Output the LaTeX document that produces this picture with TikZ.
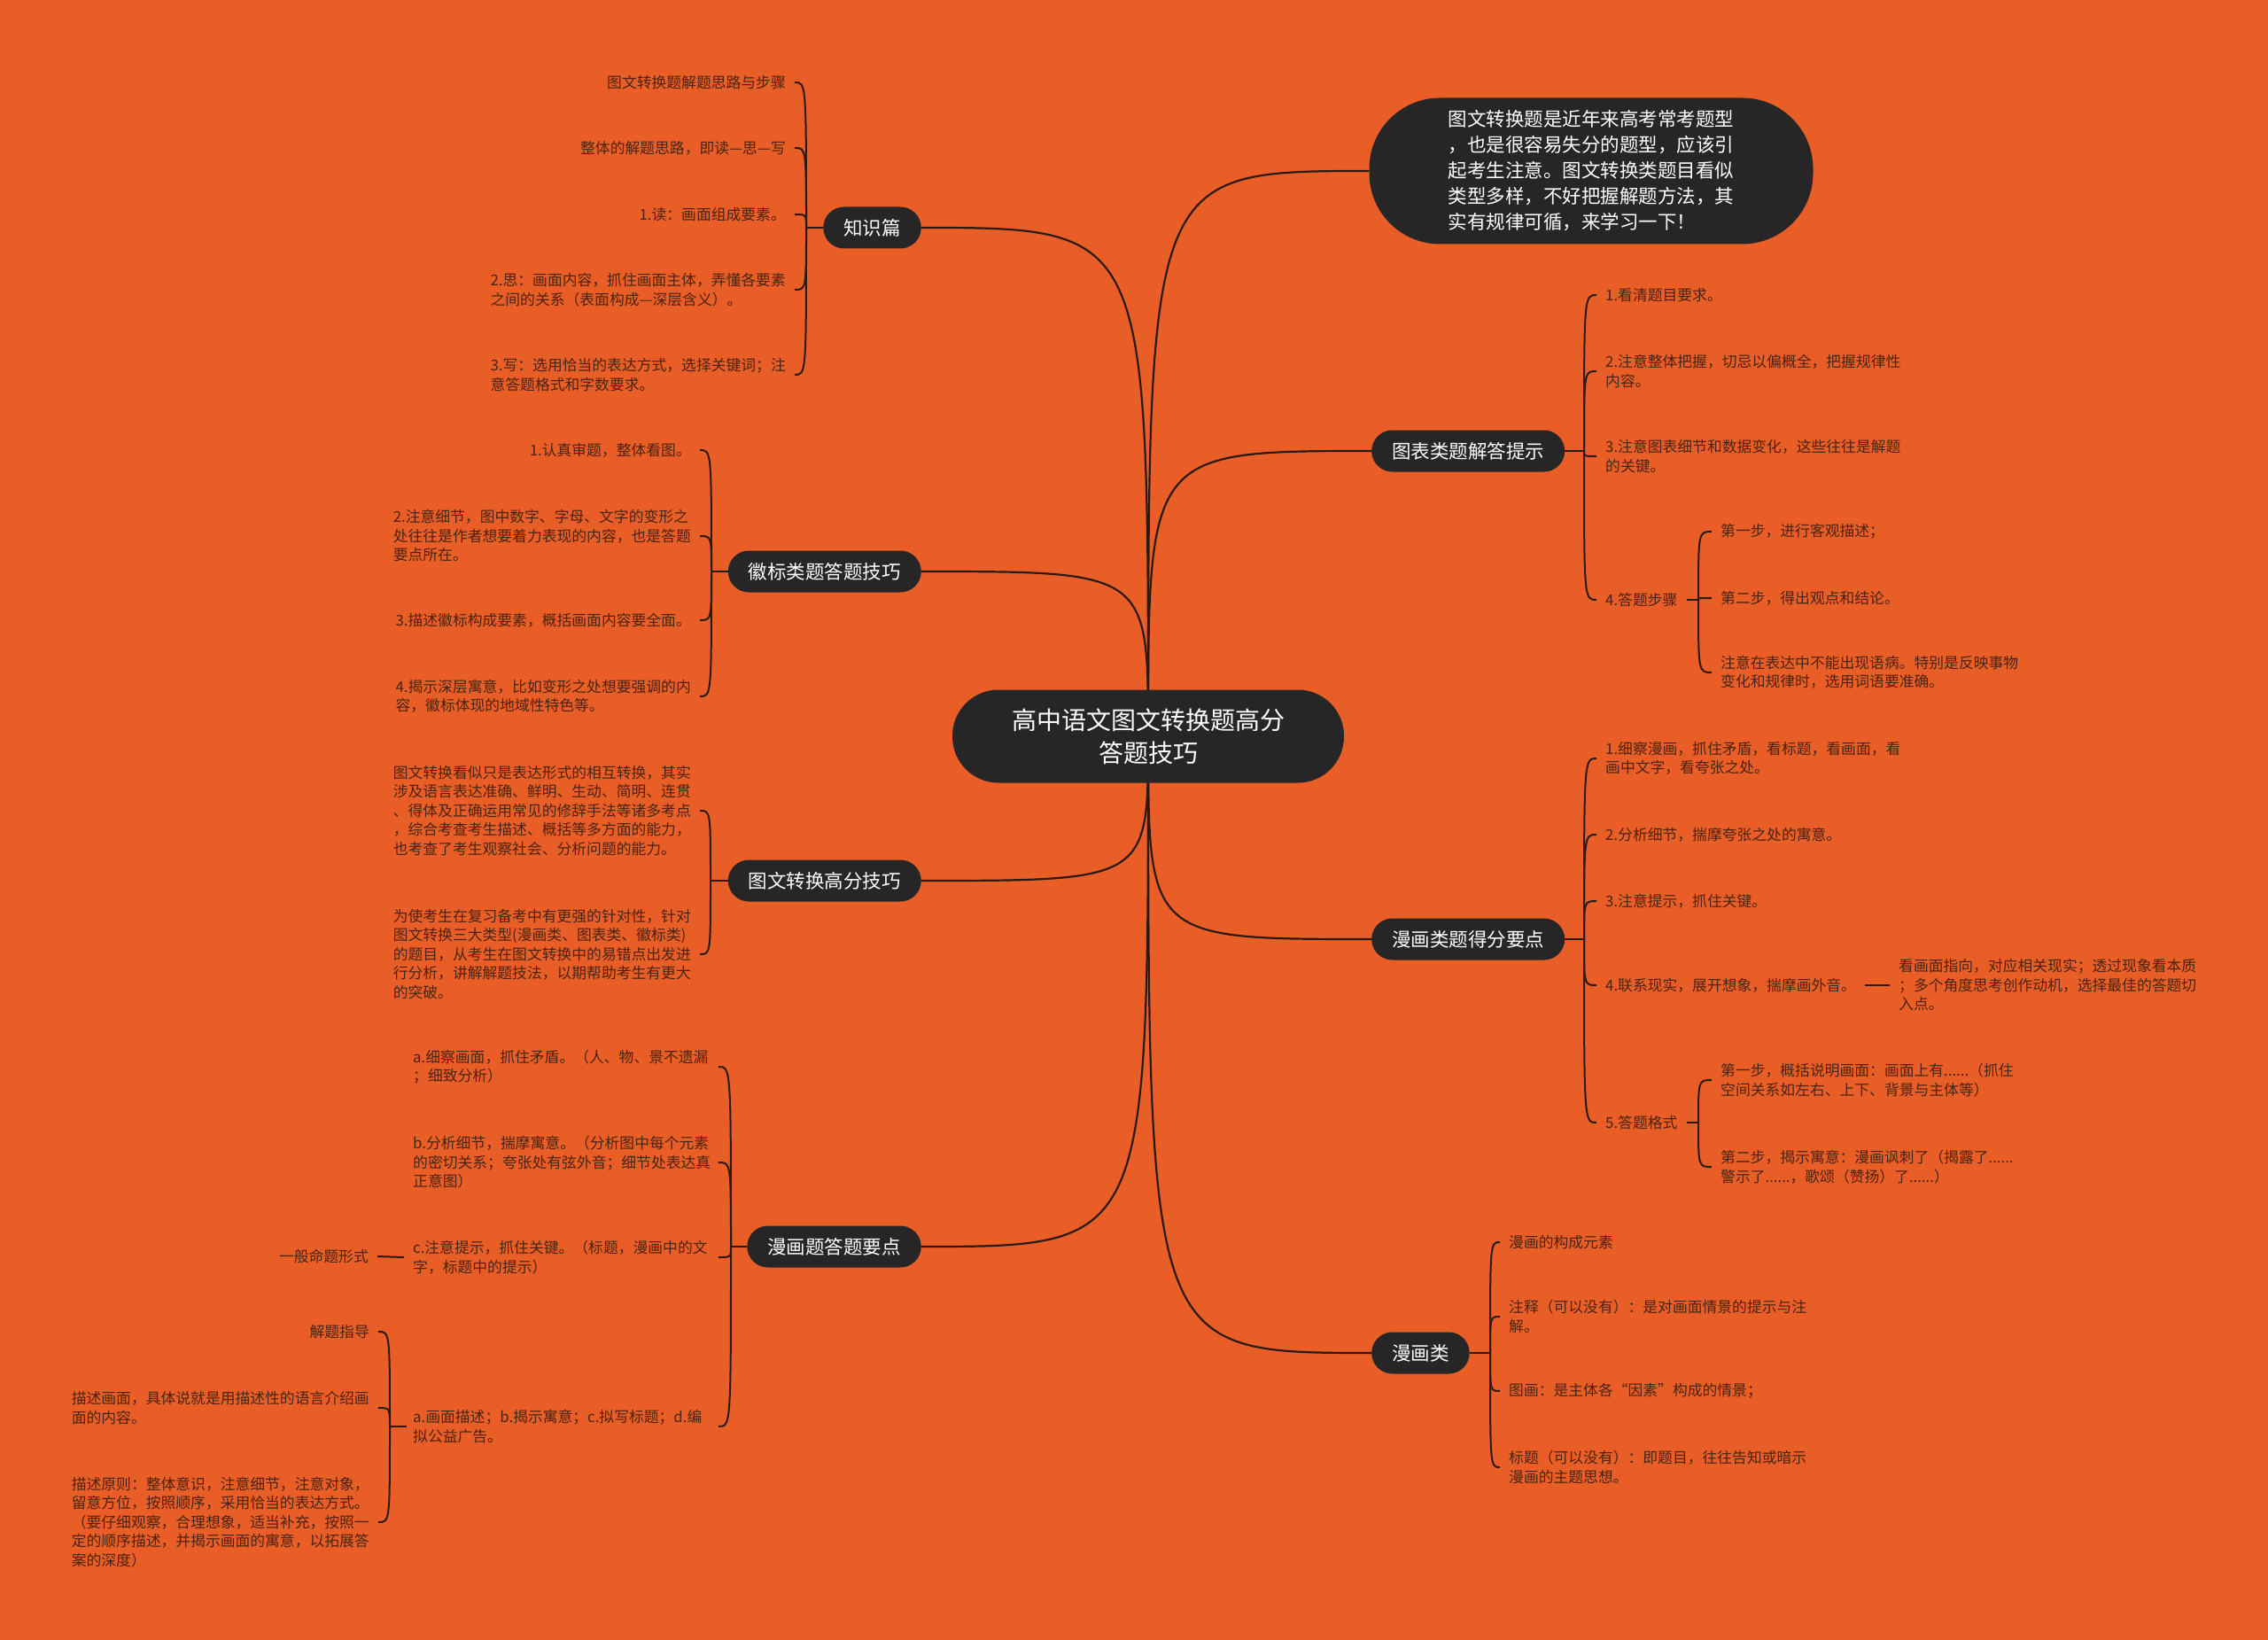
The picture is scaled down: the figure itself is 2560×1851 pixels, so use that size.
\documentclass[tikz,border=0pt]{standalone}
\usepackage{fontspec}
\setmainfont{Noto Sans CJK SC}
\usetikzlibrary{backgrounds}
\definecolor{bg}{HTML}{E85E26}
\definecolor{nodefill}{HTML}{262626}
\definecolor{linec}{HTML}{2A1A12}
\definecolor{leafc}{HTML}{4A2412}
\newcommand{\hookL}[2]{\draw[brace] (#1) .. controls (#1 |- #2.east) and (#1 |- #2.east) .. (#2.east);}
\newcommand{\hookR}[2]{\draw[brace] (#1) .. controls (#1 |- #2.west) and (#1 |- #2.west) .. (#2.west);}
\newcommand{\hookC}[2]{\draw[brace] (#1) .. controls (#1 |- #2) and (#1 |- #2) .. (#2);}
\newcommand{\rootL}[1]{\draw[main] (root.center) .. controls (root.center |- #1.east) .. (#1.east);}
\newcommand{\rootR}[1]{\draw[main] (root.center) .. controls (root.center |- #1.west) .. (#1.west);}
\begin{document}
\begin{tikzpicture}[x=1pt,y=-1pt,
  main/.style={draw=linec,line width=2.2pt},
  brace/.style={draw=linec,line width=2pt},
  topic/.style={fill=nodefill,text=white,font=\fontsize{21.5}{27}\selectfont,minimum height=47pt,inner xsep=23pt,inner ysep=0pt,rounded corners=23.5pt},
  leaf/.style={text=leafc,font=\fontsize{16.8}{21.5}\selectfont,align=left,inner xsep=10pt,inner ysep=2pt},
  lleaf/.style={leaf,anchor=east},
  rleaf/.style={leaf,anchor=west}]
\useasboundingbox (0,0) rectangle (2560,1851);

% root and topics
\node[fill=nodefill,text=white,font=\fontsize{28}{37}\selectfont,align=center,minimum width=442pt,minimum height=105pt,rounded corners=52pt,inner sep=0pt] (root) at (1296,831) {高中语文图文转换题高分\\答题技巧};
\node[fill=nodefill,text=white,font=\fontsize{21.5}{29}\selectfont,align=left,minimum width=501pt,minimum height=165pt,rounded corners=80pt,inner sep=0pt] (intro) at (1796,193) {图文转换题是近年来高考常考题型\\，也是很容易失分的题型，应该引\\起考生注意。图文转换类题目看似\\类型多样，不好把握解题方法，其\\实有规律可循，来学习一下！};

\node[topic,anchor=east] (k1) at (1040,257) {知识篇};
\node[topic,anchor=east] (k2) at (1040,645) {徽标类题答题技巧};
\node[topic,anchor=east] (k3) at (1040,994) {图文转换高分技巧};
\node[topic,anchor=east] (k4) at (1040,1407) {漫画题答题要点};
\node[topic,anchor=west] (r1) at (1548,509) {图表类题解答提示};
\node[topic,anchor=west] (r2) at (1548,1060) {漫画类题得分要点};
\node[topic,anchor=west] (r3) at (1548,1527) {漫画类};

% knowledge leaves
\node[lleaf] (k11) at (897,93) {图文转换题解题思路与步骤};
\node[lleaf] (k12) at (897,167) {整体的解题思路，即读—思—写};
\node[lleaf] (k13) at (897,242) {1.读：画面组成要素。};
\node[lleaf] (k14) at (897,327) {2.思：画面内容，抓住画面主体，弄懂各要素\\之间的关系（表面构成—深层含义）。};
\node[lleaf] (k15) at (897,423) {3.写：选用恰当的表达方式，选择关键词；注\\意答题格式和字数要求。};

% logo leaves
\node[lleaf] (k21) at (790,508) {1.认真审题，整体看图。};
\node[lleaf] (k22) at (790,605) {2.注意细节，图中数字、字母、文字的变形之\\处往往是作者想要着力表现的内容，也是答题\\要点所在。};
\node[lleaf] (k23) at (790,700) {3.描述徽标构成要素，概括画面内容要全面。};
\node[lleaf] (k24) at (790,786) {4.揭示深层寓意，比如变形之处想要强调的内\\容，徽标体现的地域性特色等。};

% high score leaves
\node[lleaf] (k31) at (790,915) {图文转换看似只是表达形式的相互转换，其实\\涉及语言表达准确、鲜明、生动、简明、连贯\\、得体及正确运用常见的修辞手法等诸多考点\\，综合考查考生描述、概括等多方面的能力，\\也考查了考生观察社会、分析问题的能力。};
\node[lleaf] (k32) at (790,1077) {为使考生在复习备考中有更强的针对性，针对\\图文转换三大类型(漫画类、图表类、徽标类)\\的题目，从考生在图文转换中的易错点出发进\\行分析，讲解解题技法，以期帮助考生有更大\\的突破。};

% cartoon answer leaves
\node[rleaf] (k41) at (456,1204) {a.细察画面，抓住矛盾。（人、物、景不遗漏\\；细致分析）};
\node[rleaf] (k42) at (456,1312) {b.分析细节，揣摩寓意。（分析图中每个元素\\的密切关系；夸张处有弦外音；细节处表达真\\正意图）};
\node[rleaf] (k43) at (456,1419) {c.注意提示，抓住关键。（标题，漫画中的文\\字，标题中的提示）};
\node[rleaf] (k44) at (456,1610) {a.画面描述；b.揭示寓意；c.拟写标题；d.编\\拟公益广告。};
\node[lleaf] (k431) at (426,1418) {一般命题形式};
\node[lleaf] (k441) at (427,1503) {解题指导};
\node[lleaf] (k442) at (427,1589) {描述画面，具体说就是用描述性的语言介绍画\\面的内容。};
\node[lleaf] (k443) at (427,1718) {描述原则：整体意识，注意细节，注意对象，\\留意方位，按照顺序，采用恰当的表达方式。\\（要仔细观察，合理想象，适当补充，按照一\\定的顺序描述，并揭示画面的寓意，以拓展答\\案的深度）};

% chart leaves
\node[rleaf] (r11) at (1802,333) {1.看清题目要求。};
\node[rleaf] (r12) at (1802,419) {2.注意整体把握，切忌以偏概全，把握规律性\\内容。};
\node[rleaf] (r13) at (1802,515) {3.注意图表细节和数据变化，这些往往是解题\\的关键。};
\node[rleaf] (r14) at (1802,677) {4.答题步骤};
\node[rleaf] (r141) at (1932,600) {第一步，进行客观描述；};
\node[rleaf] (r142) at (1932,675) {第二步，得出观点和结论。};
\node[rleaf] (r143) at (1932,759) {注意在表达中不能出现语病。特别是反映事物\\变化和规律时，选用词语要准确。};

% cartoon score leaves
\node[rleaf] (r21) at (1802,856) {1.细察漫画，抓住矛盾，看标题，看画面，看\\画中文字，看夸张之处。};
\node[rleaf] (r22) at (1802,942) {2.分析细节，揣摩夸张之处的寓意。};
\node[rleaf] (r23) at (1802,1017) {3.注意提示，抓住关键。};
\node[rleaf] (r24) at (1802,1112) {4.联系现实，展开想象，揣摩画外音。};
\node[rleaf] (r241) at (2133,1112) {看画面指向，对应相关现实；透过现象看本质\\；多个角度思考创作动机，选择最佳的答题切\\入点。};
\node[rleaf] (r25) at (1802,1267) {5.答题格式};
\node[rleaf] (r251) at (1932,1219) {第一步，概括说明画面：画面上有......（抓住\\空间关系如左右、上下、背景与主体等）};
\node[rleaf] (r252) at (1932,1317) {第二步，揭示寓意：漫画讽刺了（揭露了......\\警示了......，歌颂（赞扬）了......）};

% cartoon type leaves
\node[rleaf] (r31) at (1693,1402) {漫画的构成元素};
\node[rleaf] (r32) at (1693,1486) {注释（可以没有）：是对画面情景的提示与注\\解。};
\node[rleaf] (r33) at (1693,1570) {图画：是主体各“因素”构成的情景；};
\node[rleaf] (r34) at (1693,1656) {标题（可以没有）：即题目，往往告知或暗示\\漫画的主题思想。};

\begin{pgfonlayer}{background}
\fill[bg] (0,0) rectangle (2560,1851);
% root connectors
\rootL{k1}\rootL{k2}\rootL{k3}\rootL{k4}
\rootR{intro}\rootR{r1}\rootR{r2}\rootR{r3}
% junctions and hook ends
\coordinate (j1) at (910,257);
\coordinate (j2) at (803,645);
\coordinate (j3) at (802,994);
\coordinate (j4) at (825,1407);
\coordinate (h41) at (811,1204);
\coordinate (h42) at (811,1312);
\coordinate (h43) at (811,1419);
\coordinate (h44) at (811,1610);
\coordinate (j44) at (440,1610);
\coordinate (jr1) at (1788,509);
\coordinate (jr14) at (1917,677);
\coordinate (jr2) at (1788,1060);
\coordinate (jr25) at (1917,1267);
\coordinate (jr3) at (1682,1527);
\draw[brace] (k1.west) -- (j1);
\hookL{j1}{k11}\hookL{j1}{k12}\hookL{j1}{k13}\hookL{j1}{k14}\hookL{j1}{k15}
\draw[brace] (k2.west) -- (j2);
\hookL{j2}{k21}\hookL{j2}{k22}\hookL{j2}{k23}\hookL{j2}{k24}
\draw[brace] (k3.west) -- (j3);
\hookL{j3}{k31}\hookL{j3}{k32}
\draw[brace] (k4.west) -- (j4);
\hookC{j4}{h41}\hookC{j4}{h42}\hookC{j4}{h43}\hookC{j4}{h44}
\draw[brace] (k431.east) -- (k43.west);
\draw[brace] ([xshift=3pt]k44.west) -- (j44);
\hookL{j44}{k441}\hookL{j44}{k442}\hookL{j44}{k443}
\draw[brace] (r1.east) -- (jr1);
\hookR{jr1}{r11}\hookR{jr1}{r12}\hookR{jr1}{r13}\hookR{jr1}{r14}
\draw[brace] (r14.east) -- (jr14);
\hookR{jr14}{r141}\hookR{jr14}{r142}\hookR{jr14}{r143}
\draw[brace] (r2.east) -- (jr2);
\hookR{jr2}{r21}\hookR{jr2}{r22}\hookR{jr2}{r23}\hookR{jr2}{r24}\hookR{jr2}{r25}
\draw[brace] (r24.east) -- (r241.west);
\draw[brace] (r25.east) -- (jr25);
\hookR{jr25}{r251}\hookR{jr25}{r252}
\draw[brace] (r3.east) -- (jr3);
\hookR{jr3}{r31}\hookR{jr3}{r32}\hookR{jr3}{r33}\hookR{jr3}{r34}
\end{pgfonlayer}
\end{tikzpicture}
\end{document}
